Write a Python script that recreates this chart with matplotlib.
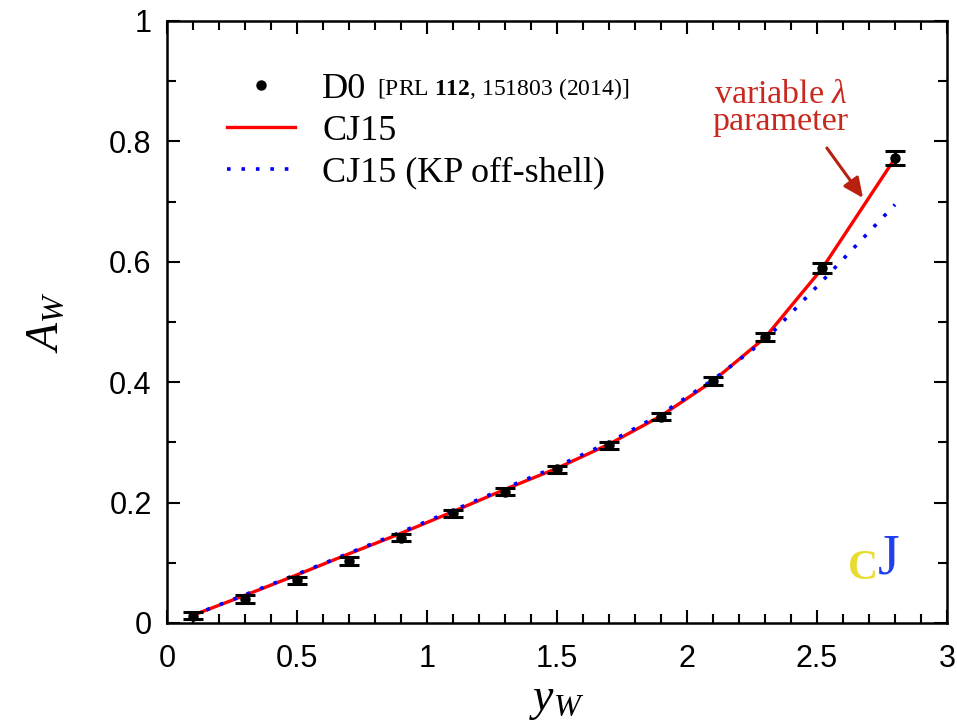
import matplotlib
matplotlib.use("Agg")
import matplotlib.pyplot as plt
from matplotlib.lines import Line2D
from matplotlib.ticker import MultipleLocator, FuncFormatter
import numpy as np

plt.rcParams['mathtext.fontset'] = 'custom'
plt.rcParams['mathtext.rm'] = 'Liberation Serif'
plt.rcParams['mathtext.it'] = 'Liberation Serif:italic'
plt.rcParams['mathtext.bf'] = 'Liberation Serif:bold'

# D0 W-asymmetry data
yw = [0.1, 0.3, 0.5, 0.7, 0.9, 1.1, 1.3, 1.5, 1.7, 1.9, 2.1, 2.3, 2.52, 2.8]
aw = [0.012, 0.040, 0.071, 0.103, 0.142, 0.182, 0.218, 0.255, 0.295, 0.343,
      0.402, 0.475, 0.590, 0.772]
aw_err = [0.006, 0.006, 0.006, 0.006, 0.006, 0.006, 0.006, 0.006, 0.006, 0.006,
          0.006, 0.007, 0.008, 0.012]

# CJ15 fits
cj15 = [0.013, 0.046, 0.080, 0.115, 0.149, 0.185, 0.222, 0.257, 0.297, 0.344,
        0.402, 0.474, 0.589, 0.772]
cj15_kp = [0.013, 0.047, 0.081, 0.116, 0.151, 0.187, 0.224, 0.260, 0.300, 0.347,
           0.404, 0.470, 0.568, 0.695]

fig = plt.figure(figsize=(9.57, 7.21), dpi=100)
ax = fig.add_axes([167/957, 1-623/721, 780/957, 602/721])

ax.plot(yw, cj15, color='#ff0000', lw=2.4, zorder=2)
ax.plot(yw, cj15_kp, color='#0000ff', lw=2.6, linestyle=(0, (1, 3)),
        dash_capstyle='butt', zorder=3)
ax.errorbar(yw, aw, yerr=aw_err, fmt='o', color='black', ms=6.5,
            elinewidth=2, capsize=7, capthick=2.2, zorder=4)

ax.set_xlim(0, 3)
ax.set_ylim(0, 1)
ax.xaxis.set_major_locator(MultipleLocator(0.5))
ax.xaxis.set_minor_locator(MultipleLocator(0.1))
ax.yaxis.set_major_locator(MultipleLocator(0.2))
ax.yaxis.set_minor_locator(MultipleLocator(0.1))
fmt = FuncFormatter(lambda v, p: '%g' % round(v, 2))
ax.xaxis.set_major_formatter(fmt)
ax.yaxis.set_major_formatter(fmt)

ax.tick_params(which='both', direction='in', top=True, right=True, width=1.5)
ax.tick_params(which='major', length=9.4)
ax.tick_params(which='minor', length=6.5)
ax.tick_params(axis='x', pad=15)
ax.tick_params(axis='y', pad=11)
for lab in ax.get_xticklabels() + ax.get_yticklabels():
    lab.set_fontfamily('Liberation Sans')
    lab.set_fontsize(22)
for s in ax.spines.values():
    s.set_linewidth(1.8)

ax.set_xlabel(r'$y_W$', fontsize=33, labelpad=2)
ax.set_ylabel(r'$A_W$', fontsize=33, labelpad=30)

handles = [Line2D([], [], marker='o', color='black', ls='none', ms=6.5),
           Line2D([], [], color='#ff0000', lw=2.4),
           Line2D([], [], color='#0000ff', lw=2.6, linestyle=(0, (1, 3)))]
labels = ['D0', 'CJ15', 'CJ15 (KP off-shell)']
ax.legend(handles, labels, loc='upper left', bbox_to_anchor=(0.077, 0.914),
          frameon=False, borderpad=0, borderaxespad=0, handlelength=1.88,
          handletextpad=0.75, labelspacing=0.23,
          prop={'family': 'Liberation Serif', 'size': 26})
ax.text(0.808, 0.877, r'[PRL $\mathbf{112}$, 151803 (2014)]', fontsize=17,
        family='Liberation Serif', ha='left', va='baseline')

ax.text(2.36, 0.855, 'variable $\\lambda$\nparameter', color='#c8281e',
        fontsize=24.5, family='Liberation Serif', ha='center', va='center',
        linespacing=0.82)
ax.annotate('', xy=(2.677, 0.706), xytext=(2.538, 0.789),
            arrowprops=dict(arrowstyle='-|>,head_length=1.2,head_width=0.55',
                            color='#b82010', lw=2.2, shrinkA=0, shrinkB=0))

# CJ logo
ax.text(2.675, 0.09, 'C', color='#e8dc30', fontsize=30, family='Liberation Serif',
        fontweight='bold', ha='center', va='center')
ax.text(2.775, 0.105, 'J', color='#2040f0', fontsize=40, family='Liberation Serif',
        ha='center', va='center')

fig.savefig('out.png', dpi=100)
